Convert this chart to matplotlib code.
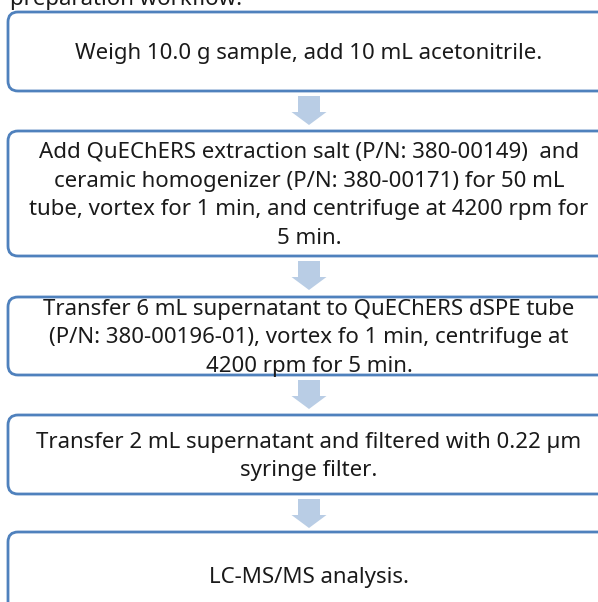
import matplotlib
matplotlib.use("Agg")
import matplotlib.pyplot as plt
from matplotlib.patches import FancyBboxPatch, FancyArrow

# Workflow steps (text kept with the line breaks of the reference)
steps = [
    "Weigh 10.0 g sample, add 10 mL acetonitrile.",
    "Add QuEChERS extraction salt (P/N: 380-00149)  and\n"
    "ceramic homogenizer (P/N: 380-00171) for 50 mL\n"
    "tube, vortex for 1 min, and centrifuge at 4200 rpm for\n"
    "5 min.",
    "Transfer 6 mL supernatant to QuEChERS dSPE tube\n"
    "(P/N: 380-00196-01), vortex fo 1 min, centrifuge at\n"
    "4200 rpm for 5 min.",
    "Transfer 2 mL supernatant and filtered with 0.22 µm\n"
    "syringe filter.",
    "LC-MS/MS analysis.",
]
caption = "preparation workflow."

# Layout in pixels (y grows downward)
box_top = [12, 131, 297, 415, 532]
box_bottom = [91, 256, 375, 494, 618]
box_left, box_right = 8, 612
center_x = 309
text_shift = 2
arrow_gap, arrow_len = 5, 29

border_color = "#4F81BD"
arrow_color = "#B9CDE5"
font = ["Noto Sans", "DejaVu Sans"]
fsize = 16

fig = plt.figure(figsize=(5.98, 6.02), dpi=100)
ax = fig.add_axes([0, 0, 1, 1])
ax.set_xlim(0, 598)
ax.set_ylim(602, 0)
ax.axis("off")

# caption of the figure, cropped at the top edge as in the reference
ax.text(10, 5, caption, ha="left", va="baseline", fontsize=fsize,
        family=font, color="#1a1a1a")

for i, label in enumerate(steps):
    top, bottom = box_top[i], box_bottom[i]
    box = FancyBboxPatch((box_left, top), box_right - box_left, bottom - top,
                         boxstyle="round,pad=0,rounding_size=10",
                         facecolor="white", edgecolor=border_color,
                         linewidth=2.0, zorder=2)
    ax.add_patch(box)
    ax.text(center_x, (top + bottom) / 2 + text_shift, label,
            ha="center", va="center", fontsize=fsize, family=font,
            color="#1a1a1a", linespacing=1.48, zorder=3)
    if i < len(steps) - 1:
        start = bottom + arrow_gap
        ax.add_patch(FancyArrow(center_x, start, 0, arrow_len, width=22,
                                head_width=35, head_length=13,
                                length_includes_head=True,
                                color=arrow_color, linewidth=0, zorder=1))

fig.savefig("out.png", dpi=100)
